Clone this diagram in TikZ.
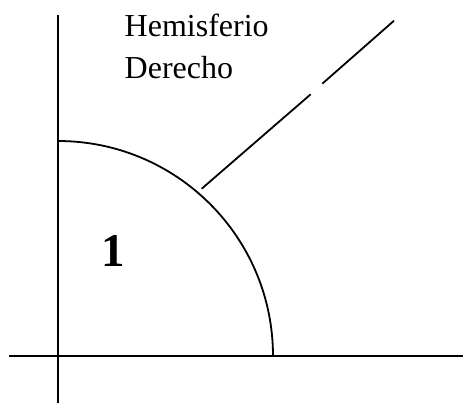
\documentclass[tikz,border=0pt]{standalone}
\usepackage{fontspec}
\setmainfont{Liberation Serif}
\begin{document}
\begin{tikzpicture}[x=1pt,y=-1pt,
  axis/.style={line width=2pt},
  curve/.style={line width=1.8pt},
  lbl/.style={inner sep=0pt,font=\fontsize{32}{42}\selectfont,anchor=base west},
  num/.style={inner sep=0pt,font=\fontsize{47}{50}\selectfont\bfseries,anchor=base}]
\useasboundingbox (0,0) rectangle (463,403);
\coordinate (o) at (58,356);
\coordinate (vtop) at (58,15);
\coordinate (vbot) at (58,403);
\coordinate (hl) at (9,356);
\coordinate (hr) at (463,356);
\draw[axis] (vtop) -- (vbot);
\draw[axis] (hl) -- (hr);
\draw[curve] (58,141) arc[start angle=-90,end angle=0,radius=215];
\coordinate (d1) at (201.7,188.7);
\coordinate (d2) at (310.7,94.3);
\coordinate (d3) at (322.3,83.7);
\coordinate (d4) at (394,20.7);
\draw[curve] (d1) -- (d2);
\draw[curve] (d3) -- (d4);
\node[lbl] (hemi) at (124.5,36.7) {Hemisferio};
\node[lbl] (der) at (124.5,78.3) {Derecho};
\node[num] (one) at (113,266.7) {1};
\end{tikzpicture}
\end{document}
